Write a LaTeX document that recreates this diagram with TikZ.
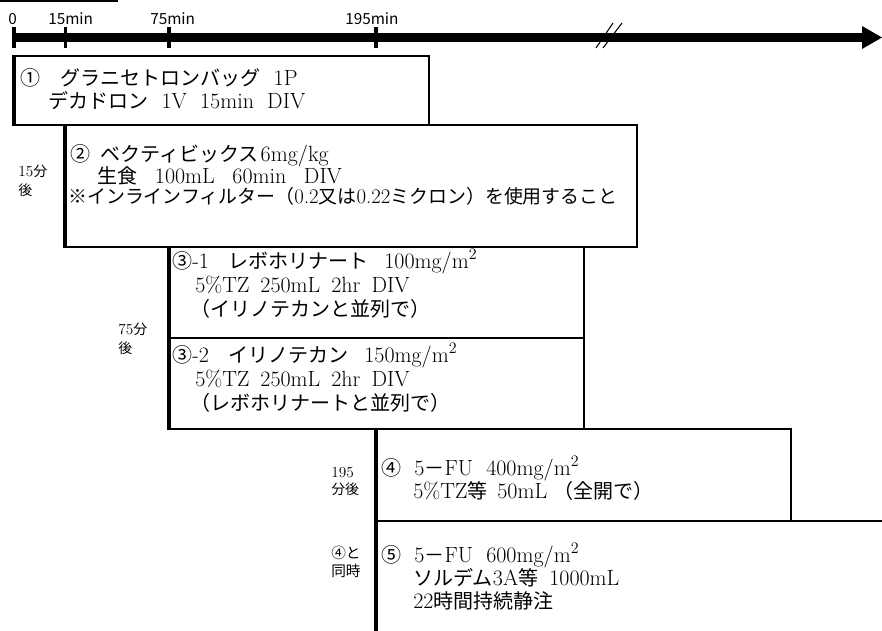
\documentclass[tikz,border=0pt]{standalone}
\usepackage{fontspec}
\newfontfamily\jp[Scale=0.91]{Noto Sans CJK JP}
\newfontfamily\jpsans{Noto Sans CJK JP}
\newcommand\ja[1]{{\jp #1}}
\begin{document}
\begin{tikzpicture}[x=0.75pt,y=-0.75pt,
  thin box/.style={line width=1pt},
  thick edge/.style={line width=2.6pt},
  tick mark/.style={line width=2.6pt},
  txt/.style={anchor=base west,inner sep=0pt,font=\fontsize{16.5}{19}\selectfont},
  smalltxt/.style={anchor=base west,inner sep=0pt,font=\fontsize{15.6}{18}\selectfont},
  side/.style={anchor=base west,inner sep=0pt,font=\fontsize{11.5}{13}\selectfont},
  sideg/.style={anchor=base west,inner sep=0pt,font=\jpsans\fontsize{11}{12}\selectfont},
  axislbl/.style={anchor=base west,inner sep=0pt,font=\jpsans\fontsize{11.5}{13}\selectfont}]
\useasboundingbox (0,0) rectangle (882,631);
% top bar
\fill (0,0) rectangle (118,2.5);
% time axis
\coordinate (t0) at (14,37.5);
\coordinate (tend) at (864,37.5);
\draw[line width=6.2pt] (t0) -- (tend);
\fill (862,26) -- (882,37.5) -- (862,49) -- cycle;
\foreach \xx in {14,65.5,169,376} \draw[tick mark] (\xx,27) -- (\xx,48);
\draw[line width=0.8pt] (596,48) -- (613,23);
\draw[line width=0.8pt] (603,48) -- (622,23);
\node[axislbl] (l0) at (8,25) {0};
\node[axislbl] (l15) at (48,25) {15min};
\node[axislbl] (l75) at (150,25) {75min};
\node[axislbl] (l195) at (345,25) {195min};
% box 1
\draw[thin box] (13,56) rectangle (429,125);
\draw[thick edge] (14.3,56) -- (14.3,125);
\node[txt] (b1a) at (20,86) {\ja{①　グラニセトロンバッグ}\hspace{0.6em}1P};
\node[txt] (b1b) at (48,109) {\ja{デカドロン}\hspace{0.6em}1V\hspace{0.6em}15min\hspace{0.6em}DIV};
% box 2
\draw[thin box] (64,125) rectangle (637,247);
\draw[thick edge] (65.6,125) -- (65.6,247);
\node[txt] (b2a) at (70,162) {\ja{②}\hspace{0.45em}\ja{ベクティビックス}\hspace{0.1em}6mg/kg};
\node[txt] (b2b) at (97,184) {\ja{生食}\hspace{0.8em}100mL\hspace{0.8em}60min\hspace{0.8em}DIV};
\node[smalltxt] (b2c) at (68,204) {\ja{※インラインフィルター（}0.2\ja{又は}0.22\ja{ミクロン）を使用すること}};
\node[side] (s15a) at (18,177) {15\ja{分}};
\node[side] (s15b) at (18,196) {\ja{後}};
% box 3
\draw[thin box] (167.5,247) rectangle (584,429);
\draw[thin box] (167.5,338) -- (584,338);
\draw[thick edge] (169,247) -- (169,429);
\node[txt] (b3a) at (172,268) {\ja{③}-1\hspace{0.9em}\ja{レボホリナート}\hspace{0.7em}100mg/m$^2$};
\node[txt] (b3b) at (195,292) {5\%TZ\hspace{0.5em}250mL\hspace{0.5em}2hr\hspace{0.5em}DIV};
\node[txt] (b3c) at (190,316) {\ja{（イリノテカンと並列で）}};
\node[txt] (b3d) at (172,362) {\ja{③}-2\hspace{0.9em}\ja{イリノテカン}\hspace{0.7em}150mg/m$^2$};
\node[txt] (b3e) at (195,386) {5\%TZ\hspace{0.5em}250mL\hspace{0.5em}2hr\hspace{0.5em}DIV};
\node[txt] (b3f) at (190,410) {\ja{（レボホリナートと並列で）}};
\node[side] (s75a) at (118,334) {75\ja{分}};
\node[side] (s75b) at (118,353) {\ja{後}};
% box 4 and 5
\draw[thin box] (374.5,429) rectangle (791,521);
\draw[thin box] (374.5,521) -- (882,521);
\draw[thick edge] (376,429) -- (376,631);
\node[txt] (b4a) at (381,475) {\ja{④}\hspace{0.6em}5\ja{－}FU\hspace{0.6em}400mg/m$^2$};
\node[txt] (b4b) at (413,498) {5\%TZ\ja{等}\hspace{0.45em}50mL\hspace{0.3em}\ja{（全開で）}};
\node[side] (s195a) at (331,477) {195};
\node[side] (s195b) at (331,494) {\ja{分後}};
\node[txt] (b5a) at (381,562) {\ja{⑤}\hspace{0.6em}5\ja{－}FU\hspace{0.6em}600mg/m$^2$};
\node[txt] (b5b) at (413,585) {\ja{ソルデム}3A\ja{等}\hspace{0.5em}1000mL};
\node[txt] (b5c) at (413,608) {22\ja{時間持続静注}};
\node[sideg] (s4a) at (331,558) {④と};
\node[sideg] (s4b) at (331,576) {同時};
\end{tikzpicture}
\end{document}
